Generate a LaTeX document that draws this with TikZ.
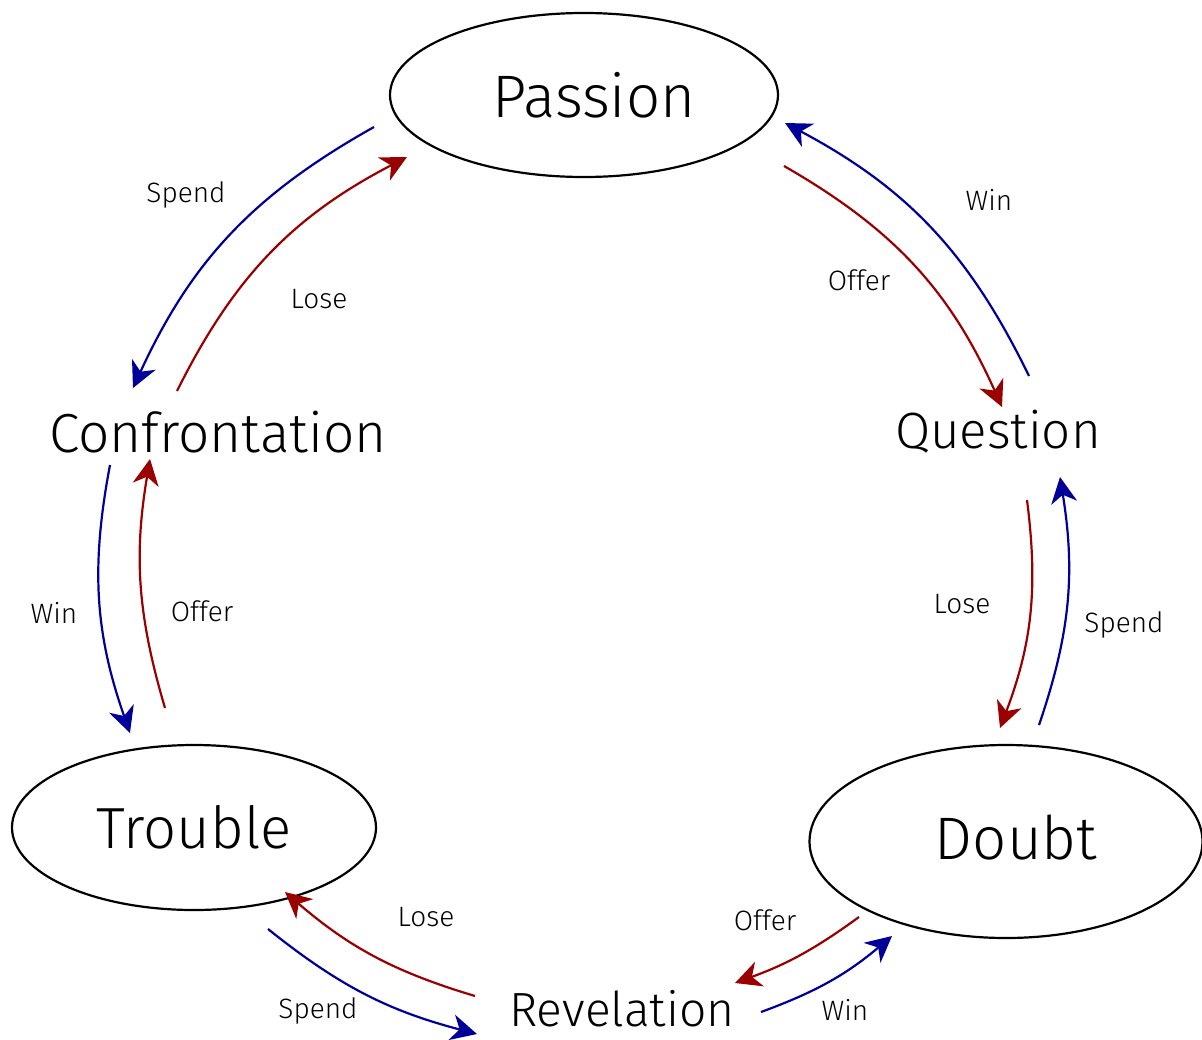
\documentclass[tikz,border=0pt]{standalone}
\usepackage{fontspec}
\setmainfont{Fira Sans}[UprightFont=* Light]
\usetikzlibrary{arrows.meta,shapes.geometric}
\definecolor{bluec}{HTML}{000099}
\definecolor{redc}{HTML}{990000}
\newcommand{\fsz}[1]{\fontsize{#1}{#1}\selectfont}
\begin{document}
\begin{tikzpicture}[x=1pt,y=1pt,
  state/.style={ellipse, draw, line width=2.2pt, inner sep=0pt},
  word/.style={inner sep=0pt},
  lbl/.style={inner sep=0pt, font=\fsz{28}},
  tipstyle/.style={-{Stealth[length=26pt,width=26pt,inset=8pt]}},
  blu/.style={draw=bluec, line width=2.2pt, tipstyle},
  rd/.style={draw=redc, line width=2.2pt, tipstyle}
]
\useasboundingbox (0,0) rectangle (1202,-1039);

% states
\node[state, minimum width=388pt, minimum height=164pt, font=\fsz{60}] (passion) at (584,-95) {\hspace{20pt}Passion};
\node[state, minimum width=364pt, minimum height=165pt, font=\fsz{58}] (trouble) at (194,-827.5) {Trouble};
\node[state, minimum width=393pt, minimum height=193pt, font=\fsz{60}] (doubt) at (1006,-841.5) {\hspace{20pt}\raisebox{8pt}{Doubt}};
\node[word, font=\fsz{55}] (confr) at (218,-432) {Confrontation};
\node[word, font=\fsz{51}] (question) at (998,-432) {Question};
\node[word, font=\fsz{48}] (revel) at (622,-1009) {Revelation};

% connector end points
\coordinate (pA) at (374,-127);   \coordinate (cA) at (133,-388);
\coordinate (cB) at (177,-391);   \coordinate (pB) at (407,-157);
\coordinate (pC) at (784,-166);   \coordinate (qC) at (1002,-407);
\coordinate (qD) at (1029,-376);  \coordinate (pD) at (785,-123);
\coordinate (qE) at (1027,-500);  \coordinate (dE) at (1000,-728);
\coordinate (dF) at (1039,-725);  \coordinate (qF) at (1060,-477);
\coordinate (cG) at (110,-465);   \coordinate (tG) at (130,-733);
\coordinate (tH) at (165,-708);   \coordinate (cH) at (150,-459);
\coordinate (rI) at (475,-996);   \coordinate (tI) at (285,-892);
\coordinate (tJ) at (268,-929);   \coordinate (rJ) at (477,-1034);
\coordinate (dK) at (859,-917);   \coordinate (rK) at (735,-983);
\coordinate (rL) at (761,-1012);  \coordinate (dL) at (892,-936);

% connectors
\draw[blu] (pA) to[bend right=18] (cA);
\draw[rd]  (cB) to[bend left=18] (pB);
\draw[rd]  (pC) to[bend left=18] (qC);
\draw[blu] (qD) to[bend right=18] (pD);
\draw[rd]  (qE) to[bend left=14] (dE);
\draw[blu] (dF) to[bend right=14] (qF);
\draw[blu] (cG) to[bend right=15] (tG);
\draw[rd]  (tH) to[bend left=13] (cH);
\draw[rd]  (rI) to[bend left=12] (tI);
\draw[blu] (tJ) to[bend right=12] (rJ);
\draw[rd]  (dK) to[bend left=8] (rK);
\draw[blu] (rL) to[bend right=10] (dL);

% labels
\node[lbl] (l1) at (186,-195) {Spend};
\node[lbl] (l2) at (319,-299) {Lose};
\node[lbl] (l3) at (859,-280) {Offer};
\node[lbl] (l4) at (989,-200) {Win};
\node[lbl] (l5) at (54,-613) {Win};
\node[lbl] (l6) at (202,-611) {Offer};
\node[lbl] (l7) at (962,-604) {Lose};
\node[lbl] (l8) at (1124,-625) {Spend};
\node[lbl] (l9) at (426,-917) {Lose};
\node[lbl] (l10) at (318,-1011) {Spend};
\node[lbl] (l11) at (765,-920) {Offer};
\node[lbl] (l12) at (845,-1010) {Win};
\end{tikzpicture}
\end{document}
